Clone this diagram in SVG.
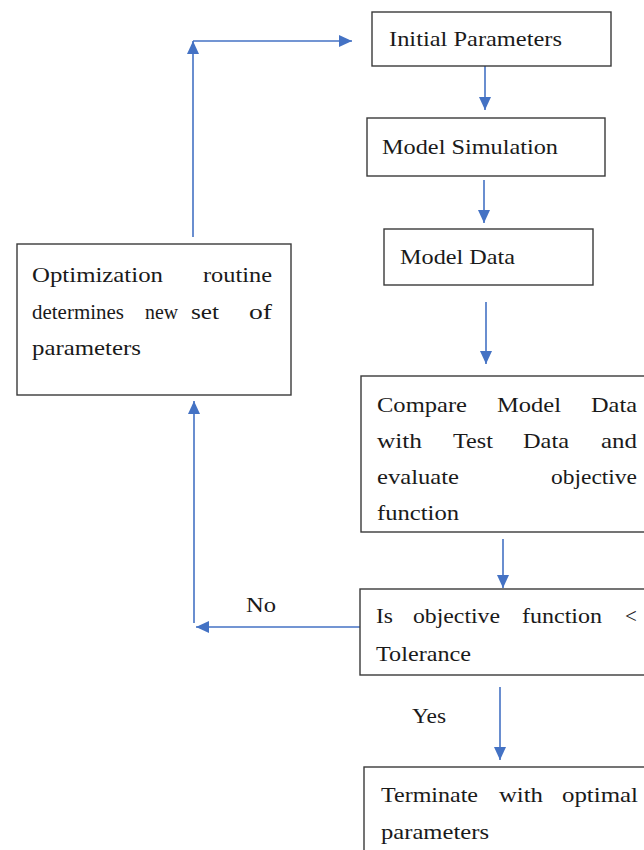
<svg xmlns="http://www.w3.org/2000/svg" width="644" height="850" viewBox="0 0 644 850">
<style>
.box{fill:#fff;stroke:#3a3a3a;stroke-width:1.4}
.t{font-family:"Liberation Serif","Times New Roman",serif;font-size:21px;fill:#1a1a1a}
.c{fill:none;stroke:#4472C4;stroke-width:1.6}
</style>
<defs>
<marker id="ah" markerUnits="userSpaceOnUse" markerWidth="13" markerHeight="12" refX="13" refY="6" orient="auto">
<path d="M0,0 L13,6 L0,12 z" fill="#4472C4"/>
</marker>
</defs>
<rect width="644" height="850" fill="#fff"/>
<g id="connectors">
<line class="c" x1="485" y1="66" x2="485" y2="110" marker-end="url(#ah)"/>
<line class="c" x1="484" y1="180" x2="484" y2="223" marker-end="url(#ah)"/>
<line class="c" x1="486" y1="302" x2="486" y2="364" marker-end="url(#ah)"/>
<line class="c" x1="503" y1="539" x2="503" y2="588" marker-end="url(#ah)"/>
<line class="c" x1="500" y1="687" x2="500" y2="760" marker-end="url(#ah)"/>
<line class="c" x1="360" y1="627" x2="196" y2="627" marker-end="url(#ah)"/>
<line class="c" x1="194" y1="623" x2="194" y2="401" marker-end="url(#ah)"/>
<line class="c" x1="193" y1="237" x2="193" y2="41" marker-end="url(#ah)"/>
<line class="c" x1="193" y1="41" x2="352" y2="41" marker-end="url(#ah)"/>
<text class="t" x="246" y="612" textLength="30" lengthAdjust="spacingAndGlyphs">No</text>
<text class="t" x="412" y="723" textLength="34" lengthAdjust="spacingAndGlyphs">Yes</text>
</g>
<g id="n1">
<rect class="box" x="372" y="12" width="239" height="54"/>
<text class="t" x="389" y="46" textLength="173" lengthAdjust="spacingAndGlyphs">Initial Parameters</text>
</g>
<g id="n2">
<rect class="box" x="367" y="118" width="238" height="58"/>
<text class="t" x="382" y="154" textLength="176" lengthAdjust="spacingAndGlyphs">Model Simulation</text>
</g>
<g id="n3">
<rect class="box" x="384" y="229" width="209" height="56"/>
<text class="t" x="400" y="264" textLength="115" lengthAdjust="spacingAndGlyphs">Model Data</text>
</g>
<g id="n4">
<rect class="box" x="361" y="376" width="292" height="156"/>
<text class="t" x="377" y="412" textLength="90" lengthAdjust="spacingAndGlyphs">Compare</text>
<text class="t" x="497" y="412" textLength="64" lengthAdjust="spacingAndGlyphs">Model</text>
<text class="t" x="591" y="412" textLength="46" lengthAdjust="spacingAndGlyphs">Data</text>
<text class="t" x="377" y="448" textLength="45" lengthAdjust="spacingAndGlyphs">with</text>
<text class="t" x="453" y="448" textLength="40" lengthAdjust="spacingAndGlyphs">Test</text>
<text class="t" x="523" y="448" textLength="46" lengthAdjust="spacingAndGlyphs">Data</text>
<text class="t" x="601" y="448" textLength="36" lengthAdjust="spacingAndGlyphs">and</text>
<text class="t" x="377" y="484" textLength="82" lengthAdjust="spacingAndGlyphs">evaluate</text>
<text class="t" x="551" y="484" textLength="86" lengthAdjust="spacingAndGlyphs">objective</text>
<text class="t" x="377" y="520" textLength="82" lengthAdjust="spacingAndGlyphs">function</text>
</g>
<g id="n5">
<rect class="box" x="360" y="589" width="292" height="86"/>
<text class="t" x="376" y="623" textLength="17" lengthAdjust="spacingAndGlyphs">Is</text>
<text class="t" x="413" y="623" textLength="87" lengthAdjust="spacingAndGlyphs">objective</text>
<text class="t" x="522" y="623" textLength="80" lengthAdjust="spacingAndGlyphs">function</text>
<text class="t" x="625" y="623">&lt;</text>
<text class="t" x="376" y="661" textLength="95" lengthAdjust="spacingAndGlyphs">Tolerance</text>
</g>
<g id="n6">
<rect class="box" x="17" y="244" width="274" height="151"/>
<text class="t" x="32" y="282" textLength="131" lengthAdjust="spacingAndGlyphs">Optimization</text>
<text class="t" x="203" y="282" textLength="69" lengthAdjust="spacingAndGlyphs">routine</text>
<text class="t" x="32" y="319" textLength="92" lengthAdjust="spacingAndGlyphs">determines</text>
<text class="t" x="145" y="319" textLength="33" lengthAdjust="spacingAndGlyphs">new</text>
<text class="t" x="191" y="319" textLength="28" lengthAdjust="spacingAndGlyphs">set</text>
<text class="t" x="249" y="319" textLength="23" lengthAdjust="spacingAndGlyphs">of</text>
<text class="t" x="32" y="355" textLength="109" lengthAdjust="spacingAndGlyphs">parameters</text>
</g>
<g id="n7">
<rect class="box" x="364" y="767" width="292" height="100"/>
<text class="t" x="381" y="802" textLength="97" lengthAdjust="spacingAndGlyphs">Terminate</text>
<text class="t" x="499" y="802" textLength="44" lengthAdjust="spacingAndGlyphs">with</text>
<text class="t" x="562" y="802" textLength="76" lengthAdjust="spacingAndGlyphs">optimal</text>
<text class="t" x="381" y="839" textLength="108" lengthAdjust="spacingAndGlyphs">parameters</text>
</g>
</svg>
